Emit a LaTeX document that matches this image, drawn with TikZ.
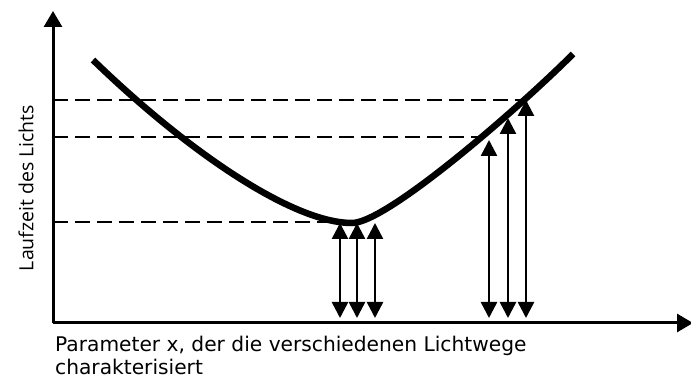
\documentclass[tikz,border=0pt]{standalone}
\usepackage{fontspec}
\setmainfont{DejaVu Sans}
\newfontfamily\ylabfont{Open Sans}
\usetikzlibrary{arrows.meta}
\tikzset{
  axis/.style={line width=3pt, -{Triangle[width=18pt,length=16pt]}},
  guide/.style={line width=2pt, dash pattern=on 15pt off 7pt},
  ray/.style={line width=2.5pt, {Triangle[width=16pt,length=16pt]}-{Triangle[width=16pt,length=16pt]}},
  curveline/.style={line width=6.5pt}
}
\begin{document}
\begin{tikzpicture}[x=1pt,y=-1pt]
\useasboundingbox (0,0) rectangle (691,379);
% axes
\coordinate (O) at (53,323);
\coordinate (ytop) at (53,11);
\coordinate (xend) at (693,323);
\draw[axis] (O) -- (ytop);
\draw[axis] (O) -- (xend);
% dashed levels
\coordinate (d1a) at (53,100); \coordinate (d1b) at (526,100);
\coordinate (d2a) at (53,137); \coordinate (d2b) at (483,137);
\coordinate (d3a) at (53,222); \coordinate (d3b) at (340,222);
\draw[guide] (d1a) -- (d1b);
\draw[guide] (d2a) -- (d2b);
\draw[guide] (d3a) -- (d3b);
% curve
\coordinate (cstart) at (93,60);
\coordinate (cmin) at (352,223);
\coordinate (cend) at (573,54);
\draw[curveline] (cstart) .. controls (188,152) and (293,223) .. (cmin)
  .. controls (386.7,223) and (518.3,108.7) .. (cend);
% arrows
\foreach \n/\x/\t in {a/340/223, b/357/223, c/375/223, d/489/140, e/508/118, f/526/100}{
  \coordinate (\n top) at (\x,\t);
  \coordinate (\n bot) at (\x,318);
  \draw[ray] (\n bot) -- (\n top);
}
% labels
\node[anchor=north west, inner sep=0pt, align=left, font=\fontsize{20.2}{23}\selectfont] (xlab) at (55,336) {Parameter x, der die verschiedenen Lichtwege\\charakterisiert};
\node[rotate=90, inner sep=0pt, font=\ylabfont\fontsize{19.5}{22}\selectfont] (ylab) at (26,188) {Laufzeit des Lichts};
\end{tikzpicture}
\end{document}
